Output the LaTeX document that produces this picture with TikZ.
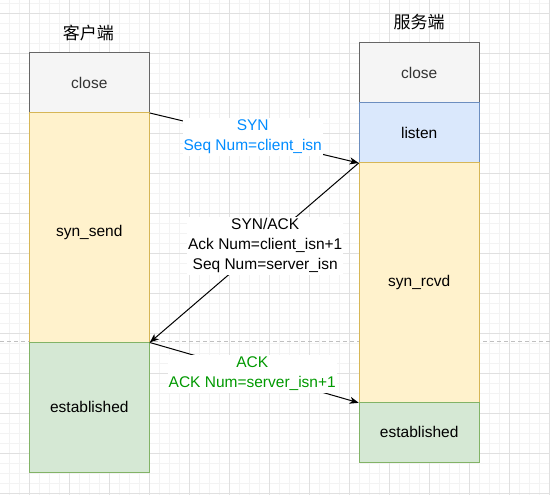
\documentclass[tikz,border=0pt]{standalone}
\usepackage{fontspec}
\setmainfont{Liberation Sans}
\newfontfamily\cjk{Noto Sans CJK SC}
\usetikzlibrary{arrows.meta}
\definecolor{gridmajor}{HTML}{E0E0E0}
\definecolor{gridminor}{HTML}{F3F3F3}
\definecolor{closefill}{HTML}{F5F5F5}
\definecolor{closedraw}{HTML}{666666}
\definecolor{closetext}{HTML}{333333}
\definecolor{bluefill}{HTML}{DAE8FC}
\definecolor{bluedraw}{HTML}{6C8EBF}
\definecolor{yelfill}{HTML}{FFF2CC}
\definecolor{yeldraw}{HTML}{D6B656}
\definecolor{grnfill}{HTML}{D5E8D4}
\definecolor{grndraw}{HTML}{82B366}
\definecolor{synblue}{RGB}{0,140,255}
\definecolor{ackgreen}{HTML}{009900}
\definecolor{pagebreak}{HTML}{C0C0C0}
\tikzset{
  box/.style={draw, rectangle, line width=1pt, inner sep=0pt, minimum width=120pt,
    font=\fontsize{15.5}{20}\selectfont},
  closebox/.style={box, fill=closefill, draw=closedraw, text=closetext},
  listenbox/.style={box, fill=bluefill, draw=bluedraw},
  waitbox/.style={box, fill=yelfill, draw=yeldraw},
  estbox/.style={box, fill=grnfill, draw=grndraw},
  titlelbl/.style={font=\cjk\fontsize{17}{20}\selectfont, inner sep=0pt},
  msglbl/.style={fill=white, align=center, inner xsep=1pt, inner ysep=2pt,
    font=\fontsize{15.5}{20}\selectfont},
  msgarrow/.style={line width=1pt, -{Stealth[length=9pt,width=7pt,inset=2.5pt]}},
  minorline/.style={gridminor, line width=0.8pt},
  majorline/.style={gridmajor, line width=0.8pt},
}
\begin{document}
\begin{tikzpicture}[x=1pt,y=-1pt]
\useasboundingbox (0,0) rectangle (550,495);
\fill[white] (0,0) rectangle (550,495);
% background grid
\foreach \x in {9,19,...,549} \draw[minorline] (\x,0) -- (\x,495);
\foreach \y in {3,13,...,493} \draw[minorline] (0,\y) -- (550,\y);
\foreach \x in {29,69,...,549} \draw[majorline] (\x,0) -- (\x,495);
\foreach \y in {13,53,...,493} \draw[majorline] (0,\y) -- (550,\y);
\draw[pagebreak, line width=0.8pt, dash pattern=on 4pt off 3pt] (0,341.5) -- (550,341.5);

% titles
\node[titlelbl] (ctitle) at (88.5,33) {客户端};
\node[titlelbl] (stitle) at (419,22.5) {服务端};

% client states
\node[closebox, minimum height=60pt] (cclose) at (89.3,82.5) {close};
\node[waitbox, minimum height=229.5pt,
  label={[font=\fontsize{15.5}{20}\selectfont, yshift=-5pt]center:syn\_send}] (csend) at (89.3,227.25) {};
\node[estbox, minimum height=130pt] (cest) at (89.3,407) {established};

% server states
\node[closebox, minimum height=59.5pt] (sclose) at (419.2,72.75) {close};
\node[listenbox, minimum height=60pt] (slisten) at (419.2,132.5) {listen};
\node[waitbox, minimum height=239.8pt] (srcvd) at (419.2,282.4) {syn\_rcvd};
\node[estbox, minimum height=59.8pt] (sest) at (419.2,432.2) {established};

% messages
\draw[msgarrow] (cclose.south east) -- node[msglbl, text=synblue, xshift=-1.5pt, yshift=1pt]
  {SYN\\Seq Num=client\_isn} (slisten.south west);
\draw[msgarrow] (slisten.south west) -- node[msglbl, xshift=11pt, yshift=7pt]
  {SYN/ACK\\Ack Num=client\_isn+1\\Seq Num=server\_isn} (csend.south east);
\draw[msgarrow] (csend.south east) -- node[msglbl, text=ackgreen, xshift=-2pt, yshift=-1pt]
  {ACK\\ACK Num=server\_isn+1} (srcvd.south west);
\end{tikzpicture}
\end{document}
